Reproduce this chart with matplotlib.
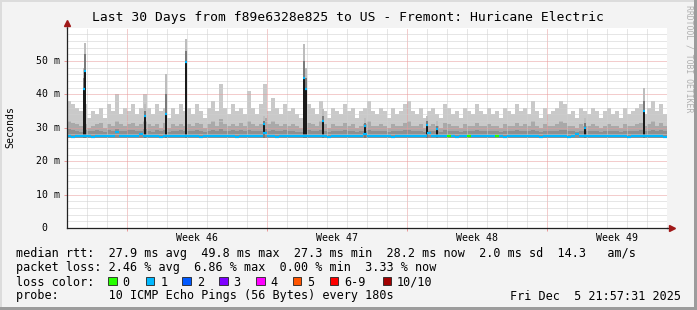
import matplotlib
matplotlib.use("Agg")
import matplotlib.pyplot as plt
from matplotlib.patches import Rectangle

# smoke bins: 150 bins of 0.2 day over the 30 day window (values in ms)
bin_days = [0.1 + 0.2 * i for i in range(150)]

median = [
    27.4, 27.3, 27.5, 27.4, 27.6, 27.5, 27.3, 27.4, 27.5, 27.4, 27.6, 27.5, 28.6, 27.4, 27.5,
    27.5, 27.4, 27.6, 28.2, 27.5, 27.4, 27.5, 27.4, 27.3, 27.5, 27.6, 27.4, 27.5, 27.4, 27.5,
    27.6, 27.4, 27.5, 27.3, 27.4, 27.5, 27.5, 27.4, 27.6, 27.5, 27.4, 27.5, 27.3, 27.5, 27.4,
    27.5, 27.4, 27.6, 27.5, 28.4, 27.4, 27.5, 27.3, 27.5, 27.4, 27.6, 27.5, 27.4, 27.5, 27.5,
    27.4, 27.5, 27.6, 27.5, 27.4, 27.3, 27.5, 27.4, 27.5, 27.6, 27.4, 27.5, 27.5, 27.4, 28.0,
    27.5, 27.4, 27.5, 27.6, 27.4, 27.5, 27.3, 27.5, 27.4, 27.5, 27.6, 27.4, 27.5, 27.4, 27.5,
    28.3, 27.5, 27.4, 27.5, 27.6, 27.4, 27.5, 27.3, 27.5, 27.4, 27.5, 27.6, 27.4, 27.5, 27.4,
    27.5, 27.4, 27.6, 27.5, 27.3, 27.5, 27.4, 27.5, 27.4, 27.6, 27.5, 27.4, 27.5, 27.3, 27.5,
    27.4, 27.5, 27.6, 27.4, 27.5, 27.3, 27.5, 28.2, 27.4, 27.5, 27.6, 27.4, 27.5, 27.4, 27.5,
    27.5, 27.4, 27.6, 27.5, 27.4, 27.3, 27.5, 27.4, 27.5, 27.6, 27.4, 27.5, 27.4, 27.5, 27.3,
]

loss = [
    1, 1, 1, 1, 1, 1, 1, 1, 1, 1, 1, 1, 1, 1, 1,
    1, 1, 1, 1, 1, 1, 1, 1, 1, 1, 1, 1, 1, 1, 1,
    1, 1, 1, 1, 1, 1, 1, 1, 1, 1, 1, 1, 1, 1, 1,
    1, 1, 1, 1, 1, 1, 1, 1, 1, 1, 1, 1, 1, 1, 1,
    1, 1, 1, 1, 1, 1, 1, 1, 1, 1, 1, 1, 1, 1, 1,
    1, 1, 1, 1, 1, 1, 1, 1, 1, 1, 1, 1, 1, 1, 1,
    1, 1, 1, 1, 1, 0, 1, 1, 1, 1, 0, 1, 1, 1, 1,
    1, 1, 0, 1, 1, 1, 1, 1, 1, 1, 1, 1, 1, 1, 1,
    1, 1, 1, 1, 1, 1, 1, 1, 1, 1, 1, 1, 1, 1, 1,
    1, 1, 1, 1, 1, 1, 1, 1, 1, 1, 1, 1, 1, 1, 1,
]

smoke_floor = 27.0

smoke_hi = [
    38, 37, 36, 35, 37, 33, 35, 34, 36, 33, 37, 35, 40, 34, 36,
    35, 37, 34, 36, 40, 36, 34, 37, 35, 36, 33, 36, 34, 37, 35,
    36, 34, 37, 35, 33, 36, 38, 35, 43, 36, 34, 37, 35, 36, 34,
    41, 36, 34, 37, 43, 35, 39, 36, 34, 37, 35, 36, 34, 33, 35,
    37, 36, 34, 38, 35, 33, 36, 35, 34, 37, 35, 36, 33, 35, 36,
    38, 35, 34, 36, 35, 33, 36, 34, 35, 37, 38, 35, 34, 36, 33,
    35, 36, 34, 33, 37, 36, 34, 35, 33, 36, 35, 34, 37, 35, 34,
    36, 34, 35, 33, 36, 35, 34, 37, 35, 36, 34, 38, 35, 33, 36,
    34, 35, 36, 38, 37, 34, 35, 33, 36, 35, 34, 36, 35, 33, 35,
    36, 34, 35, 33, 36, 34, 35, 36, 37, 34, 36, 38, 35, 37, 34,
]

smoke_mid = [
    32, 31.5, 31, 30.5, 31, 30, 30.5, 31, 31.5, 30, 31, 30.5, 32, 31, 30.5,
    31, 31.5, 30.5, 31, 32, 31, 30.5, 31, 30, 31.5, 30, 31, 30.5, 31, 30.5,
    31, 30.5, 31.5, 31, 30, 31, 32, 30.5, 32.5, 31, 30.5, 31, 30.5, 31.5, 30.5,
    32, 31, 30.5, 31, 33, 31, 32, 31, 30.5, 31, 30.5, 31, 30.5, 30, 30.5,
    31.5, 31, 30.5, 32, 31, 30, 31, 30.5, 30.5, 31.5, 30.5, 31, 30, 30.5, 31,
    32, 30.5, 30.5, 31, 30.5, 30, 31, 30.5, 30.5, 31.5, 32, 30.5, 30.5, 31, 30,
    30.5, 31, 30.5, 30, 31.5, 31, 30.5, 30.5, 30, 31, 30.5, 30.5, 31.5, 30.5, 30.5,
    31, 30.5, 30.5, 30, 31, 30.5, 30.5, 31.5, 30.5, 31, 30.5, 32, 30.5, 30, 31,
    30.5, 30.5, 31, 32, 31.5, 30.5, 30.5, 30, 31, 30.5, 30.5, 31, 30.5, 30, 30.5,
    31, 30.5, 30.5, 30, 31, 30.5, 30.5, 31, 31.5, 30.5, 31, 32, 30.5, 31.5, 30.5,
]

smoke_lo = [
    29.5, 29.2, 29.0, 28.8, 29.3, 28.9, 29.1, 29.4, 29.0, 28.8, 29.2, 29.0, 29.6, 29.1, 28.9,
    29.2, 29.4, 28.9, 29.1, 29.5, 29.0, 28.8, 29.2, 29.0, 29.3, 28.8, 29.1, 29.0, 29.2, 28.9,
    29.1, 28.9, 29.3, 29.0, 28.8, 29.1, 29.4, 28.9, 29.6, 29.1, 28.9, 29.2, 28.9, 29.3, 28.9,
    29.4, 29.0, 28.9, 29.1, 29.7, 29.0, 29.3, 29.1, 28.9, 29.2, 28.9, 29.0, 28.8, 28.7, 28.9,
    29.3, 29.1, 28.9, 29.4, 29.0, 28.8, 29.1, 28.9, 28.9, 29.2, 28.9, 29.0, 28.8, 28.9, 29.1,
    29.4, 28.9, 28.9, 29.1, 28.9, 28.8, 29.1, 28.9, 28.9, 29.2, 29.4, 28.9, 28.9, 29.0, 28.8,
    28.9, 29.1, 28.9, 28.8, 29.2, 29.1, 28.9, 28.9, 28.8, 29.1, 28.9, 28.9, 29.2, 28.9, 28.9,
    29.1, 28.9, 28.9, 28.8, 29.1, 28.9, 28.9, 29.2, 28.9, 29.1, 28.9, 29.3, 28.9, 28.8, 29.1,
    28.9, 28.9, 29.1, 29.4, 29.2, 28.9, 28.9, 28.8, 29.1, 28.9, 28.9, 29.1, 28.9, 28.8, 28.9,
    29.1, 28.9, 28.9, 28.8, 29.1, 28.9, 28.9, 29.1, 29.2, 28.9, 29.1, 29.4, 28.9, 29.2, 28.9,
]

# short latency spikes (day, median, inner smoke, outer smoke) in ms
spike_day = [0.85, 0.9, 3.9, 4.95, 5.95, 9.85, 11.85, 11.95, 12.8, 14.9, 18.0, 18.5, 25.9, 28.85]
spike_med = [41.5, 47.0, 33.5, 34.0, 49.8, 31.0, 45.0, 41.5, 32.0, 30.5, 30.8, 29.5, 30.0, 35.0]
spike_mid = [45.0, 52.0, 35.0, 40.0, 53.0, 32.0, 50.0, 45.0, 33.5, 31.5, 32.0, 30.5, 31.5, 38.0]
spike_max = [48.0, 55.5, 37.0, 46.0, 56.5, 33.5, 55.0, 48.0, 35.5, 33.0, 33.5, 32.0, 33.0, 42.0]

week_names = ["Week 46", "Week 47", "Week 48", "Week 49"]
week_starts = [3, 10, 17, 24]

loss_labels = ["0", "1", "2", "3", "4", "5", "6-9", "10/10"]
loss_colors = ["#26ff00", "#00b8ff", "#0059ff", "#7e00ff", "#ff00ff", "#ff5500", "#ff0000", "#a10000"]

W, H = 697, 310
MONO = "DejaVu Sans Mono"


def fx(x):
    return x / W


def fy(y):
    return 1 - y / H


fig = plt.figure(figsize=(W / 100, H / 100), dpi=100)
fig.patch.set_facecolor("#f3f3f3")

ax = fig.add_axes([fx(67), fy(228), 600 / W, 200.4 / H])
ax.set_facecolor("white")
ax.set_xlim(0, 30)
ax.set_ylim(0, 60)

# smoke
n = len(bin_days)
ax.bar(bin_days, [h - smoke_floor for h in smoke_hi], bottom=smoke_floor, width=0.2,
       color="#c9c9c9", linewidth=0, zorder=2)
ax.bar(bin_days, [h - smoke_floor for h in smoke_mid], bottom=smoke_floor, width=0.2,
       color="#a9a9a9", linewidth=0, zorder=2)
ax.bar(bin_days, [h - smoke_floor for h in smoke_lo], bottom=smoke_floor, width=0.2,
       color="#8f8f8f", linewidth=0, zorder=2)

# spikes
ax.bar(spike_day, [m - smoke_floor for m in spike_max], bottom=smoke_floor, width=0.13,
       color="#bdbdbd", linewidth=0, zorder=3)
ax.bar(spike_day, [m - smoke_floor for m in spike_mid], bottom=smoke_floor, width=0.13,
       color="#7a7a7a", linewidth=0, zorder=3)
ax.bar(spike_day, [m - 28.0 for m in spike_med], bottom=28.0, width=0.09,
       color="#1a1a1a", linewidth=0, zorder=3)
ax.hlines(spike_med, [d - 0.05 for d in spike_day], [d + 0.05 for d in spike_day],
          colors="#00b8ff", linewidth=1.6, zorder=4)

# median line coloured by loss
ax.hlines(median, [d - 0.1 for d in bin_days], [d + 0.1 for d in bin_days],
          colors=[loss_colors[l] for l in loss], linewidth=1.6, zorder=4)

# grid
ax.set_xticks(week_starts)
ax.set_xticks([d for d in range(1, 30) if d not in week_starts], minor=True)
ax.set_yticks(range(10, 60, 10))
ax.set_yticks([v for v in range(2, 60, 2) if v % 10], minor=True)
ax.grid(which="minor", color="#cfcfcf", linestyle=(0, (1, 1)), linewidth=0.72, zorder=5)
ax.grid(which="major", color="#e89a9a", linestyle=(0, (1, 1)), linewidth=0.72, zorder=5)
ax.set_axisbelow(False)
ax.tick_params(which="major", length=2.5, width=0.72, color="#e89a9a", labelleft=False, labelbottom=False)
ax.tick_params(which="minor", length=0, labelleft=False, labelbottom=False)

for s in ["top", "right"]:
    ax.spines[s].set_visible(False)
for s in ["left", "bottom"]:
    ax.spines[s].set_color("#222222")
    ax.spines[s].set_linewidth(0.9)
    ax.spines[s].set_zorder(6)
ax.plot([0, 0], [1, 1.025], transform=ax.transAxes, color="#444444", lw=0.9, clip_on=False, zorder=6)
ax.plot([1, 1.008], [0, 0], transform=ax.transAxes, color="#222222", lw=0.9, clip_on=False, zorder=6)
ax.plot([0], [1.025], marker="^", markersize=4.5, color="#a01818", transform=ax.transAxes,
        clip_on=False, zorder=7)
ax.plot([1.008], [0], marker=">", markersize=4.5, color="#a01818", transform=ax.transAxes,
        clip_on=False, zorder=7)

# y labels
for v in range(10, 60, 10):
    ax.text(-7 / 600, v, f"{v} m", ha="right", va="center", fontsize=7.1, family=MONO,
            transform=ax.get_yaxis_transform())
fig.text(fx(44.5), fy(228), "0", ha="center", va="center", fontsize=7.1, family=MONO)

# week labels
for name, start in zip(week_names, week_starts):
    ax.text(start + 3.5, -10 / 200.4, name, ha="center", va="center", fontsize=7.1, family=MONO,
            transform=ax.get_xaxis_transform())

fig.text(fx(10), fy(127), "Seconds", rotation=90, ha="center", va="center", fontsize=7.1, family=MONO)
fig.text(fx(347.5), fy(18), "Last 30 Days from f89e6328e825 to US - Fremont: Huricane Electric",
         ha="center", va="center", fontsize=9.4, family=MONO)
fig.text(fx(689), fy(59), "RRDTOOL / TOBI OETIKER", rotation=270, ha="center", va="center",
         fontsize=5.9, family=MONO, color="#b0b0b0")

# legend
LEG = 8.5
fig.text(fx(16), fy(254), "median rtt:  27.9 ms avg  49.8 ms max  27.3 ms min  28.2 ms now  2.0 ms sd  14.3   am/s",
         ha="left", va="center", fontsize=LEG, family=MONO)
fig.text(fx(16), fy(268), "packet loss: 2.46 % avg  6.86 % max  0.00 % min  3.33 % now",
         ha="left", va="center", fontsize=LEG, family=MONO)
fig.text(fx(16), fy(282), "loss color:", ha="left", va="center", fontsize=LEG, family=MONO)
box_x = [108, 145.7, 182.3, 219, 256, 292.7, 329.5, 382.5]
for bx, lab, col in zip(box_x, loss_labels, loss_colors):
    fig.add_artist(Rectangle((fx(bx), fy(285)), 8.5 / W, 8 / H, transform=fig.transFigure,
                             facecolor=col, edgecolor="#222222", linewidth=0.6))
    fig.text(fx(bx + 14.5), fy(282), lab, ha="left", va="center", fontsize=LEG, family=MONO)
fig.text(fx(16), fy(296), "probe:       10 ICMP Echo Pings (56 Bytes) every 180s",
         ha="left", va="center", fontsize=LEG, family=MONO)
fig.text(fx(681), fy(296), "Fri Dec  5 21:57:31 2025", ha="right", va="center", fontsize=LEG, family=MONO)

# 3d frame
fig.add_artist(Rectangle((0, 0), 2 / W, 1, transform=fig.transFigure, color="#dcdcdc", lw=0))
fig.add_artist(Rectangle((0, 1 - 2 / H), 1, 2 / H, transform=fig.transFigure, color="#dcdcdc", lw=0))
fig.add_artist(Rectangle((1 - 3 / W, 0), 3 / W, 1, transform=fig.transFigure, color="#9c9c9c", lw=0))
fig.add_artist(Rectangle((0, 0), 1, 3 / H, transform=fig.transFigure, color="#9c9c9c", lw=0))

fig.savefig("out.png", dpi=100, facecolor=fig.get_facecolor())
